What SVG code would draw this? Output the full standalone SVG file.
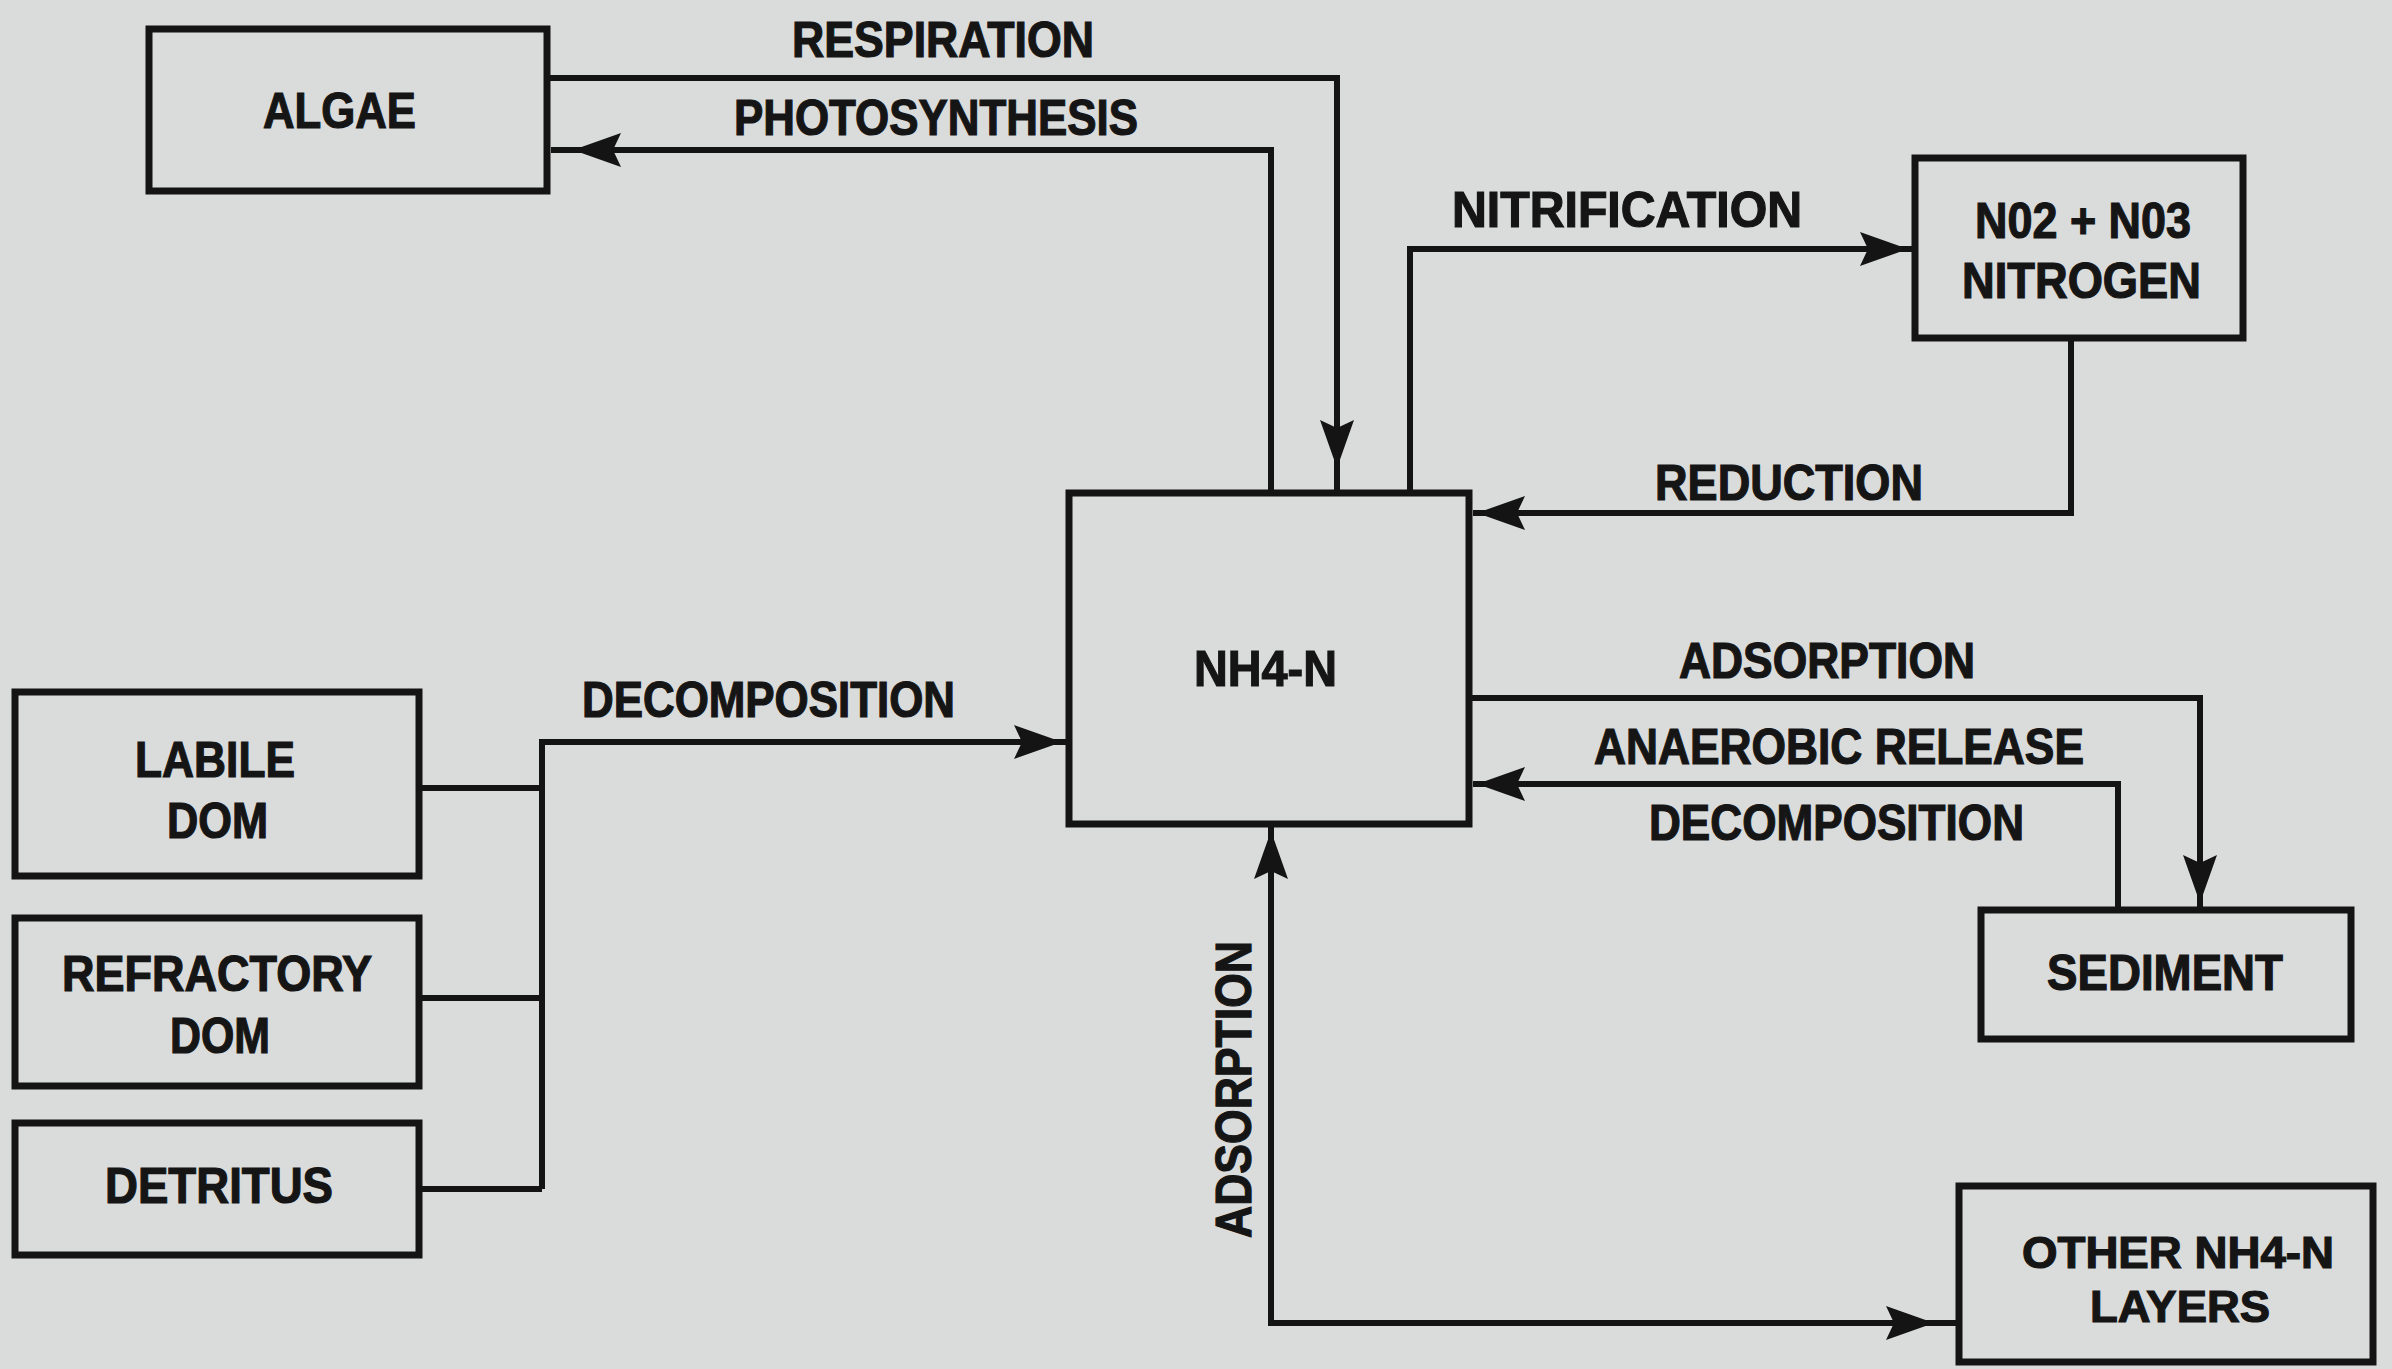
<svg xmlns="http://www.w3.org/2000/svg" width="2392" height="1369" viewBox="0 0 2392 1369">
<style>
.box{fill:none;stroke:#141414;stroke-width:7}
.con{fill:none;stroke:#141414;stroke-width:6}
.t{font-family:"Liberation Sans",Arial,sans-serif;font-weight:bold;font-size:50px;fill:#151515;stroke:#151515;stroke-width:1.2}
.s{font-size:44px}
</style>
<defs>
<marker id="arr" viewBox="0 0 54 34" refX="52" refY="17" markerWidth="54" markerHeight="34" markerUnits="userSpaceOnUse" orient="auto-start-reverse" overflow="visible">
<path d="M0,0 L48,17 L0,34 L8,17 z" fill="#141414"/>
</marker>
<marker id="arrg" viewBox="0 0 70 34" refX="70" refY="17" markerWidth="70" markerHeight="34" markerUnits="userSpaceOnUse" orient="auto-start-reverse" overflow="visible">
<path d="M0,0 L48,17 L0,34 L8,17 z" fill="#141414"/>
</marker>
</defs>
<rect x="0" y="0" width="2392" height="1369" fill="#dadbdb"/>

<g id="connectors">
<path class="con" d="M547,78 H1337 V490" marker-end="url(#arrg)"/>
<path class="con" d="M1271,490 V150 H551" marker-end="url(#arrg)"/>
<path class="con" d="M1410,490 V249 H1912" marker-end="url(#arr)"/>
<path class="con" d="M2071,338 V513 H1473" marker-end="url(#arr)"/>
<path class="con" d="M419,788 H542 M419,998 H542 M419,1189 H542"/>
<path class="con" d="M542,1189 V742 H1066" marker-end="url(#arr)"/>
<path class="con" d="M1469,698 H2200 V907" marker-end="url(#arr)"/>
<path class="con" d="M2118,910 V784 H1473" marker-end="url(#arr)"/>
<path class="con" d="M1271,827 V1323 H1956" marker-start="url(#arr)" marker-end="url(#arrg)"/>
</g>

<g id="algae">
<rect class="box" x="149" y="29" width="398" height="162"/>
<text class="t" x="263" y="128" textLength="153" lengthAdjust="spacingAndGlyphs">ALGAE</text>
</g>
<g id="nh4n">
<rect class="box" x="1069" y="493" width="400" height="331"/>
<text class="t" x="1194" y="686" textLength="143" lengthAdjust="spacingAndGlyphs">NH4-N</text>
</g>
<g id="no2no3">
<rect class="box" x="1915" y="158" width="328" height="180"/>
<text class="t" x="1975" y="238" textLength="216" lengthAdjust="spacingAndGlyphs">N02 + N03</text>
<text class="t" x="1962" y="298" textLength="239" lengthAdjust="spacingAndGlyphs">NITROGEN</text>
</g>
<g id="labile">
<rect class="box" x="15" y="692" width="404" height="184"/>
<text class="t" x="135" y="777" textLength="160" lengthAdjust="spacingAndGlyphs">LABILE</text>
<text class="t" x="167" y="838" textLength="101" lengthAdjust="spacingAndGlyphs">DOM</text>
</g>
<g id="refractory">
<rect class="box" x="15" y="918" width="404" height="168"/>
<text class="t" x="62" y="991" textLength="310" lengthAdjust="spacingAndGlyphs">REFRACTORY</text>
<text class="t" x="170" y="1053" textLength="100" lengthAdjust="spacingAndGlyphs">DOM</text>
</g>
<g id="detritus">
<rect class="box" x="15" y="1123" width="404" height="132"/>
<text class="t" x="105" y="1203" textLength="228" lengthAdjust="spacingAndGlyphs">DETRITUS</text>
</g>
<g id="sediment">
<rect class="box" x="1981" y="910" width="370" height="129"/>
<text class="t" x="2047" y="990" textLength="236" lengthAdjust="spacingAndGlyphs">SEDIMENT</text>
</g>
<g id="other">
<rect class="box" x="1959" y="1186" width="414" height="176"/>
<text class="t s" x="2022" y="1268" textLength="312" lengthAdjust="spacingAndGlyphs">OTHER NH4-N</text>
<text class="t s" x="2090" y="1322" textLength="180" lengthAdjust="spacingAndGlyphs">LAYERS</text>
</g>

<g id="labels">
<text class="t" x="792" y="57" textLength="302" lengthAdjust="spacingAndGlyphs">RESPIRATION</text>
<text class="t" x="734" y="135" textLength="404" lengthAdjust="spacingAndGlyphs">PHOTOSYNTHESIS</text>
<text class="t" x="1452" y="227" textLength="350" lengthAdjust="spacingAndGlyphs">NITRIFICATION</text>
<text class="t" x="1655" y="500" textLength="268" lengthAdjust="spacingAndGlyphs">REDUCTION</text>
<text class="t" x="582" y="717" textLength="373" lengthAdjust="spacingAndGlyphs">DECOMPOSITION</text>
<text class="t" x="1679" y="678" textLength="296" lengthAdjust="spacingAndGlyphs">ADSORPTION</text>
<text class="t" x="1594" y="764" textLength="490" lengthAdjust="spacingAndGlyphs">ANAEROBIC RELEASE</text>
<text class="t" x="1649" y="840" textLength="375" lengthAdjust="spacingAndGlyphs">DECOMPOSITION</text>
<text class="t" transform="translate(1251,1090) rotate(-90)" x="-148" y="0" textLength="297" lengthAdjust="spacingAndGlyphs">ADSORPTION</text>
</g>
</svg>
